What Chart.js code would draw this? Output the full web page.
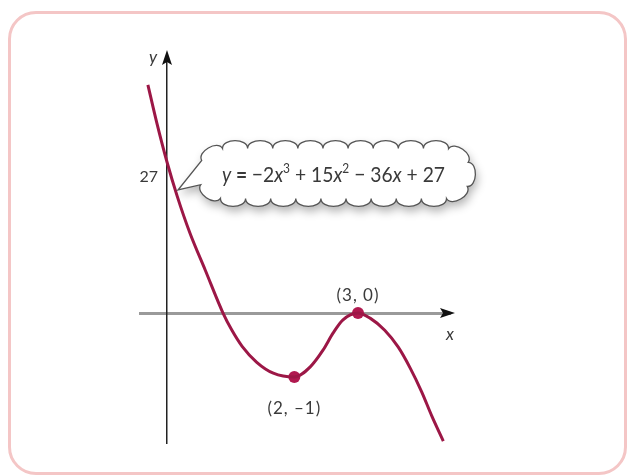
<!DOCTYPE html>
<html>
<head>
<meta charset="utf-8">
<script src="https://cdn.jsdelivr.net/npm/chart.js@4/dist/chart.umd.min.js"></script>
<style>
  html, body { margin: 0; padding: 0; background: #fff; }
  .card {
    position: absolute; left: 8px; top: 11px;
    width: 613px; height: 458px;
    border: 3px solid #f4c6c6; border-radius: 28px;
  }
  .wrap { position: absolute; left: 0; top: 0; width: 629px; height: 476px; }
</style>
</head>
<body>
<div class="card"></div>
<div class="wrap"><canvas id="curveChart"></canvas></div>
<script>
// sketch of y = -2x^3 + 15x^2 - 36x + 27
const curveX = [-0.30, -0.16, 0, 0.16, 0.36, 0.60, 0.88, 1.02, 1.18, 1.41, 1.67, 2, 2.25, 2.45, 2.61, 2.76, 3, 3.19, 3.42, 3.63, 3.82, 4.00, 4.16, 4.34];
const curveY = [40.8, 34.0, 27, 20.9, 14.3, 7.7, 0, -0.27, -0.52, -0.77, -0.94, -1, -0.84, -0.58, -0.31, -0.11, 0, -0.08, -0.27, -0.53, -0.86, -1.23, -1.61, -2.0];

// marked turning points
const pointX = [2, 3];
const pointY = [-1, 0];

const yTicks = [27];
const equationParts = [
    ['y', 'i'], [' = ', 'b'], ['\u22122', ''], ['x', 'i'], ['3', 's'], [' + 15', ''],
    ['x', 'i'], ['2', 's'], [' \u2212 36', ''], ['x', 'i'], [' + 27', '']
];

const curveColor = '#9c1746';
const textColor = '#3a3a3a';
const fontFamily = 'Lato, "Open Sans", sans-serif';

// linear scale with a different unit size below and above zero
class SplitScale extends Chart.LinearScale {
    static id = 'split';
    getPixelForValue(value) {
        const f = this.options.lowerShare;
        let d;
        if (value < 0) {
            d = (value - this.min) / (0 - this.min) * f;
        } else {
            d = f + value / this.max * (1 - f);
        }
        return this.getPixelForDecimal(d);
    }
    getValueForPixel(pixel) {
        const f = this.options.lowerShare;
        const d = this.getDecimalForPixel(pixel);
        return d < f ? this.min - d / f * this.min : (d - f) / (1 - f) * this.max;
    }
}
Chart.register(SplitScale);

function roundedRectPoints(cx, cy, w, h, r, n) {
    const sx = w - 2 * r, sy = h - 2 * r;
    const arc = Math.PI * r / 2;
    const total = 2 * sx + 2 * sy + 4 * arc;
    const left = cx - w / 2, top = cy - h / 2;
    const pts = [];
    for (let i = 0; i < n; i++) {
        let s = i * total / n;
        if (s < sx) { pts.push({x: left + r + s, y: top}); continue; }
        s -= sx;
        if (s < arc) { const a = -Math.PI / 2 + s / r; pts.push({x: left + w - r + r * Math.cos(a), y: top + r + r * Math.sin(a)}); continue; }
        s -= arc;
        if (s < sy) { pts.push({x: left + w, y: top + r + s}); continue; }
        s -= sy;
        if (s < arc) { const a = s / r; pts.push({x: left + w - r + r * Math.cos(a), y: top + h - r + r * Math.sin(a)}); continue; }
        s -= arc;
        if (s < sx) { pts.push({x: left + w - r - s, y: top + h}); continue; }
        s -= sx;
        if (s < arc) { const a = Math.PI / 2 + s / r; pts.push({x: left + r + r * Math.cos(a), y: top + h - r + r * Math.sin(a)}); continue; }
        s -= arc;
        if (s < sy) { pts.push({x: left, y: top + h - r - s}); continue; }
        s -= sy;
        const a = Math.PI + s / r;
        pts.push({x: left + r + r * Math.cos(a), y: top + r + r * Math.sin(a)});
    }
    return pts;
}

function cloudPath(ctx, cx, cy, w, h, r, n, tip) {
    const pts = roundedRectPoints(cx, cy, w, h, r, n);
    // segment closest to the tail tip gets the pointer
    let tailIdx = 0, best = Infinity;
    pts.forEach((p, i) => {
        const q = pts[(i + 1) % n];
        const dist = Math.hypot((p.x + q.x) / 2 - tip.x, (p.y + q.y) / 2 - tip.y);
        if (dist < best) { best = dist; tailIdx = i; }
    });
    ctx.beginPath();
    ctx.moveTo(pts[0].x, pts[0].y);
    for (let i = 0; i < n; i++) {
        const a = pts[i], b = pts[(i + 1) % n];
        if (i === tailIdx) {
            ctx.lineTo(tip.x, tip.y);
            ctx.lineTo(b.x, b.y);
            continue;
        }
        const mx = (a.x + b.x) / 2, my = (a.y + b.y) / 2;
        const len = Math.hypot(b.x - a.x, b.y - a.y);
        let nx = (b.y - a.y) / len, ny = -(b.x - a.x) / len;
        if ((mx - cx) * nx + (my - cy) * ny < 0) { nx = -nx; ny = -ny; }
        const k = len * 0.42;
        ctx.bezierCurveTo(a.x + nx * k, a.y + ny * k, b.x + nx * k, b.y + ny * k, b.x, b.y);
    }
    ctx.closePath();
}

function partFont(style, size) {
    if (style === 'i') return 'italic ' + size + 'px ' + fontFamily;
    if (style === 'b') return 'bold ' + size + 'px ' + fontFamily;
    if (style === 's') return Math.round(size * 0.62) + 'px ' + fontFamily;
    return size + 'px ' + fontFamily;
}

function drawEquation(ctx, x, baseline, width, size) {
    let total = 0;
    equationParts.forEach(([t, s]) => {
        ctx.font = partFont(s, size);
        total += ctx.measureText(t).width;
    });
    ctx.save();
    ctx.translate(x, baseline);
    ctx.scale(width / total, 1);
    ctx.fillStyle = textColor;
    ctx.textAlign = 'left';
    ctx.textBaseline = 'alphabetic';
    let cx = 0;
    equationParts.forEach(([t, s]) => {
        ctx.font = partFont(s, size);
        ctx.fillText(t, cx, s === 's' ? -size * 0.42 : 0);
        cx += ctx.measureText(t).width;
    });
    ctx.restore();
}

const sketchPlugin = {
    id: 'sketch',
    afterDatasetsDraw(chart) {
        const {ctx, chartArea, scales: {x, y}} = chart;
        const x0 = x.getPixelForValue(0);
        const y0 = y.getPixelForValue(0);
        ctx.save();

        // arrowheads on both axes
        ctx.fillStyle = '#111';
        ctx.beginPath();
        ctx.moveTo(x0, chartArea.top - 5);
        ctx.lineTo(x0 - 5, chartArea.top + 10);
        ctx.lineTo(x0, chartArea.top + 7);
        ctx.lineTo(x0 + 5, chartArea.top + 10);
        ctx.closePath();
        ctx.fill();
        ctx.beginPath();
        ctx.moveTo(chartArea.right + 5, y0);
        ctx.lineTo(chartArea.right - 10, y0 - 5);
        ctx.lineTo(chartArea.right - 7, y0);
        ctx.lineTo(chartArea.right - 10, y0 + 5);
        ctx.closePath();
        ctx.fill();

        // axis names
        ctx.fillStyle = textColor;
        ctx.font = 'italic 17px ' + fontFamily;
        ctx.textAlign = 'center';
        ctx.textBaseline = 'middle';
        ctx.fillText('y', x0 - 14, chartArea.top + 3);
        ctx.fillText('x', chartArea.right, y0 + 21);

        // y tick labels, set off to the left of the axis
        ctx.font = '16px ' + fontFamily;
        ctx.textAlign = 'right';
        yTicks.forEach(v => {
            ctx.fillText(String(v), x0 - 9, y.getPixelForValue(v) + 15);
        });

        // labels of the turning points
        ctx.font = '17px ' + fontFamily;
        ctx.letterSpacing = '1px';
        ctx.textAlign = 'center';
        pointX.forEach((px, i) => {
            const text = '(' + px + ', ' + String(pointY[i]).replace('-', '\u2013') + ')';
            const cx = x.getPixelForValue(px);
            const cy = y.getPixelForValue(pointY[i]);
            ctx.fillText(text, cx, pointY[i] < 0 ? cy + 31 : cy - 18);
        });
        ctx.letterSpacing = '0px';

        // speech cloud with the equation
        const tip = {x: x0 + 11, y: y.getPixelForValue(27) + 28};
        ctx.shadowColor = 'rgba(0,0,0,0.3)';
        ctx.shadowBlur = 10;
        ctx.shadowOffsetX = 2;
        ctx.shadowOffsetY = 5;
        cloudPath(ctx, 334.5, 173.5, 272, 50, 24, 24, tip);
        ctx.fillStyle = '#fff';
        ctx.fill();
        ctx.shadowColor = 'transparent';
        ctx.strokeStyle = '#555';
        ctx.lineWidth = 1.3;
        ctx.stroke();
        drawEquation(ctx, 222, 182, 223, 21);

        ctx.restore();
    }
};

new Chart(document.getElementById('curveChart'), {
    type: 'line',
    data: {
        datasets: [{
            label: 'curve',
            data: curveX.map((v, i) => ({x: v, y: curveY[i]})),
            borderColor: curveColor,
            borderWidth: 3,
            pointRadius: 0,
            cubicInterpolationMode: 'monotone',
            fill: false,
            clip: false
        }, {
            type: 'scatter',
            label: 'points',
            data: pointX.map((v, i) => ({x: v, y: pointY[i]})),
            backgroundColor: '#b0194f',
            borderWidth: 0,
            pointRadius: 6,
            clip: false
        }]
    },
    options: {
        responsive: true,
        maintainAspectRatio: false,
        animation: false,
        layout: {
            padding: {left: 140, right: 179, top: 55, bottom: 33}
        },
        plugins: {
            legend: {display: false},
            tooltip: {enabled: false}
        },
        scales: {
            x: {
                type: 'linear',
                min: -0.424,
                max: 4.445,
                position: {y: 0},
                grid: {display: false},
                border: {display: true, color: '#9a9a9a', width: 3},
                ticks: {display: false}
            },
            y: {
                type: 'split',
                min: -2.03,
                max: 46.13,
                lowerShare: 0.335,
                position: {x: 0},
                grid: {display: false, drawTicks: false},
                border: {display: true, color: '#222', width: 1.5},
                afterBuildTicks: scale => {
                    scale.ticks = yTicks.map(v => ({value: v}));
                },
                ticks: {display: false}
            }
        }
    },
    plugins: [sketchPlugin]
});
</script>
</body>
</html>
